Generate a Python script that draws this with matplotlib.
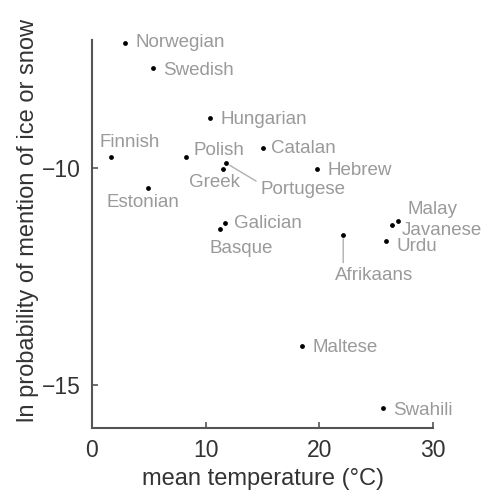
import matplotlib
matplotlib.use("Agg")
import matplotlib.pyplot as plt

plt.rcParams['font.family'] = ['Liberation Sans', 'DejaVu Sans']

# languages, mean temperature (deg C), ln probability of ice/snow mention
languages = ["Norwegian", "Swedish", "Hungarian", "Finnish", "Polish", "Catalan",
             "Hebrew", "Greek", "Portugese", "Estonian", "Galician", "Basque",
             "Afrikaans", "Malay", "Javanese", "Urdu", "Maltese", "Swahili"]
temperature = [2.9, 5.4, 10.4, 1.7, 8.3, 15.0,
               19.8, 11.5, 11.8, 4.9, 11.7, 11.3,
               22.1, 26.9, 26.4, 25.9, 18.5, 25.6]
log_prob = [-7.12, -7.70, -8.85, -9.75, -9.75, -9.54,
            -10.02, -10.02, -9.89, -10.46, -11.27, -11.41,
            -11.54, -11.22, -11.31, -11.68, -14.10, -15.55]

# label offsets in pixels (dx, dy) relative to each point
offsets = {
    "Norwegian": (11, 1), "Swedish": (10, -2), "Hungarian": (10, -1),
    "Finnish": (-12, 15), "Polish": (7, 7), "Catalan": (8, -1),
    "Hebrew": (10, -2), "Greek": (-34, -14), "Portugese": (34, -26),
    "Estonian": (-41, -15), "Galician": (9, -1), "Basque": (-11, -19),
    "Afrikaans": (-8, -41), "Malay": (10, 11), "Javanese": (10, -6),
    "Urdu": (10, -6), "Maltese": (10, -2), "Swahili": (10, -2),
}
# leader lines for labels placed away from their point
leaders = {"Portugese": (30, -18), "Afrikaans": (0, -28)}

fig = plt.figure(figsize=(4.82, 4.90), dpi=100)
ax = fig.add_axes([92 / 482, 1 - 428 / 490, (433 - 92) / 482, (428 - 40) / 490])

ax.scatter(temperature, log_prob, s=12, color="black", zorder=3, linewidths=0)

for name, x, y in zip(languages, temperature, log_prob):
    dx, dy = offsets[name]
    ax.annotate(name, (x, y), xytext=(dx, dy), textcoords="offset pixels",
                ha="left", va="center", fontsize=13.5, color="#9a9a9a")
    if name in leaders:
        lx, ly = leaders[name]
        ax.annotate("", (x, y), xytext=(lx, ly), textcoords="offset pixels",
                    arrowprops=dict(arrowstyle="-", color="#b0b0b0", lw=1,
                                    shrinkA=0, shrinkB=3))

ax.set_xlim(0, 30)
ax.set_ylim(-16, -7.05)
ax.set_xticks([0, 10, 20, 30])
ax.set_yticks([-15, -10])
for side in ("top", "right"):
    ax.spines[side].set_visible(False)
for side in ("left", "bottom"):
    ax.spines[side].set_color("#555555")
    ax.spines[side].set_linewidth(1.5)
ax.tick_params(direction="in", length=4, width=1.2, color="#555555",
               labelsize=16.5, labelcolor="#333333", pad=8)

ax.set_xlabel("mean temperature (°C)", fontsize=17, color="#333333", labelpad=4)
# y label sits a bit above the axes centre in the reference
fig.text(28 / 482, 1 - 220 / 490, "ln probability of mention of ice or snow",
         rotation=90, ha="center", va="center", fontsize=17, color="#333333")

fig.savefig("out.png", dpi=100)
